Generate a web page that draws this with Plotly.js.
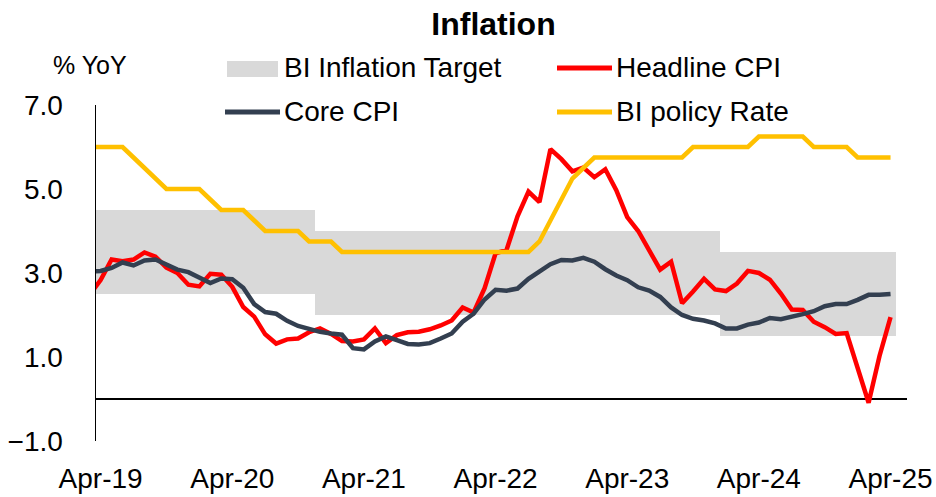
<!DOCTYPE html>
<html>
<head>
<meta charset="utf-8">
<script src="https://cdn.plot.ly/plotly-3.0.1.min.js"></script>
<style>
  html, body { margin: 0; padding: 0; background: #ffffff; }
  #chart { width: 936px; height: 497px; }
</style>
</head>
<body>
<div id="chart"></div>
<script>
// ---- Data (monthly, Mar-19 .. Apr-25) ----
var monthNames = ['Jan','Feb','Mar','Apr','May','Jun','Jul','Aug','Sep','Oct','Nov','Dec'];
var months = [];
(function () {
  var y = 2019, m = 2; // Mar-19
  while (!(y === 2025 && m === 4)) {
    months.push(monthNames[m] + '-' + String(y).slice(2));
    m++; if (m === 12) { m = 0; y++; }
  }
})();

var headlineCPI = [
  2.48, 2.83, 3.32, 3.28, 3.32, 3.49, 3.39, 3.13, 3.00, 2.72,
  2.68, 2.98, 2.96, 2.67, 2.19, 1.96, 1.54, 1.32, 1.42, 1.44, 1.59, 1.68,
  1.55, 1.38, 1.37, 1.42, 1.68, 1.33, 1.52, 1.59, 1.60, 1.66, 1.75, 1.87,
  2.18, 2.06, 2.64, 3.47, 3.55, 4.35, 4.94, 4.69, 5.95, 5.71, 5.42, 5.51,
  5.28, 5.47, 4.97, 4.33, 4.00, 3.52, 3.08, 3.27, 2.28, 2.56, 2.86, 2.61,
  2.57, 2.75, 3.05, 3.00, 2.84, 2.51, 2.13, 2.12, 1.84, 1.71, 1.55, 1.57,
  0.76, -0.09, 1.03, 1.95
];

var coreCPI = [
  3.03, 3.05, 3.12, 3.25, 3.18, 3.30, 3.32, 3.20, 3.08, 3.02,
  2.88, 2.76, 2.87, 2.85, 2.65, 2.26, 2.07, 2.03, 1.86, 1.74, 1.67, 1.60,
  1.56, 1.53, 1.21, 1.18, 1.37, 1.49, 1.40, 1.31, 1.30, 1.33, 1.44, 1.56,
  1.84, 2.03, 2.37, 2.60, 2.58, 2.63, 2.86, 3.04, 3.21, 3.31, 3.30, 3.36,
  3.27, 3.09, 2.94, 2.83, 2.66, 2.58, 2.43, 2.18, 2.00, 1.91, 1.87, 1.80,
  1.68, 1.68, 1.77, 1.82, 1.93, 1.90, 1.95, 2.02, 2.09, 2.21, 2.26, 2.26,
  2.36, 2.48, 2.48, 2.50
];

var policyRate = [
  6.00, 6.00, 6.00, 6.00, 5.75, 5.50, 5.25, 5.00, 5.00, 5.00,
  5.00, 4.75, 4.50, 4.50, 4.50, 4.25, 4.00, 4.00, 4.00, 4.00, 3.75, 3.75,
  3.75, 3.50, 3.50, 3.50, 3.50, 3.50, 3.50, 3.50, 3.50, 3.50, 3.50, 3.50,
  3.50, 3.50, 3.50, 3.50, 3.50, 3.50, 3.50, 3.75, 4.25, 4.75, 5.25, 5.50,
  5.75, 5.75, 5.75, 5.75, 5.75, 5.75, 5.75, 5.75, 5.75, 6.00, 6.00, 6.00,
  6.00, 6.00, 6.00, 6.25, 6.25, 6.25, 6.25, 6.25, 6.00, 6.00, 6.00, 6.00,
  5.75, 5.75, 5.75, 5.75
];

var targetLow = [
  2.5, 2.5, 2.5, 2.5, 2.5, 2.5, 2.5, 2.5, 2.5, 2.5,
  2.5, 2.5, 2.5, 2.5, 2.5, 2.5, 2.5, 2.5, 2.5, 2.5, 2.5, 2.0,
  2.0, 2.0, 2.0, 2.0, 2.0, 2.0, 2.0, 2.0, 2.0, 2.0, 2.0, 2.0,
  2.0, 2.0, 2.0, 2.0, 2.0, 2.0, 2.0, 2.0, 2.0, 2.0, 2.0, 2.0,
  2.0, 2.0, 2.0, 2.0, 2.0, 2.0, 2.0, 2.0, 2.0, 2.0, 2.0, 2.0,
  1.5, 1.5, 1.5, 1.5, 1.5, 1.5, 1.5, 1.5, 1.5, 1.5, 1.5, 1.5,
  1.5, 1.5, 1.5, 1.5
];
var targetHigh = [
  4.5, 4.5, 4.5, 4.5, 4.5, 4.5, 4.5, 4.5, 4.5, 4.5,
  4.5, 4.5, 4.5, 4.5, 4.5, 4.5, 4.5, 4.5, 4.5, 4.5, 4.5, 4.0,
  4.0, 4.0, 4.0, 4.0, 4.0, 4.0, 4.0, 4.0, 4.0, 4.0, 4.0, 4.0,
  4.0, 4.0, 4.0, 4.0, 4.0, 4.0, 4.0, 4.0, 4.0, 4.0, 4.0, 4.0,
  4.0, 4.0, 4.0, 4.0, 4.0, 4.0, 4.0, 4.0, 4.0, 4.0, 4.0, 4.0,
  3.5, 3.5, 3.5, 3.5, 3.5, 3.5, 3.5, 3.5, 3.5, 3.5, 3.5, 3.5,
  3.5, 3.5, 3.5, 3.5
];

var xTickLabels = ['Apr-19', 'Apr-20', 'Apr-21', 'Apr-22', 'Apr-23', 'Apr-24', 'Apr-25'];
var yTicks = [-1, 1, 3, 5, 7];

var seriesNames = ['BI Inflation Target', 'Headline CPI', 'Core CPI', 'BI policy Rate'];
var seriesColors = ['#D9D9D9', '#FF0000', '#333F50', '#FFC000'];

// ---- Layout helpers (pixel -> paper) ----
var W = 936, H = 497;
var M = { l: 96, r: 29, t: 105, b: 56 };
var PW = W - M.l - M.r, PH = H - M.t - M.b;
function px(x) { return (x - M.l) / PW; }
function py(y) { return (H - M.b - y) / PH; }

var FONT = 'Liberation Sans, Arial, sans-serif';

var bandHeight = targetHigh.map(function (v, i) { return v - targetLow[i]; });

var traces = [
  {
    type: 'bar', x: months, y: bandHeight, base: targetLow,
    name: seriesNames[0], marker: { color: seriesColors[0], line: { width: 0 } },
    hoverinfo: 'skip', showlegend: false
  },
  {
    type: 'scatter', mode: 'lines', x: months, y: headlineCPI, name: seriesNames[1],
    line: { color: seriesColors[1], width: 4.5 }, showlegend: false
  },
  {
    type: 'scatter', mode: 'lines', x: months, y: coreCPI, name: seriesNames[2],
    line: { color: seriesColors[2], width: 4.5 }, showlegend: false
  },
  {
    type: 'scatter', mode: 'lines', x: months, y: policyRate, name: seriesNames[3],
    line: { color: seriesColors[3], width: 4.5 }, showlegend: false
  }
];

var legendFont = { family: FONT, size: 28, color: '#000000' };

var shapes = [
  { type: 'rect', xref: 'paper', yref: 'paper', x0: px(227), x1: px(278), y0: py(77), y1: py(61),
    fillcolor: seriesColors[0], line: { width: 0 } },
  { type: 'line', xref: 'paper', yref: 'paper', x0: px(557), x1: px(612), y0: py(68), y1: py(68),
    line: { color: seriesColors[1], width: 5 } },
  { type: 'line', xref: 'paper', yref: 'paper', x0: px(225), x1: px(280), y0: py(112), y1: py(112),
    line: { color: seriesColors[2], width: 5 } },
  { type: 'line', xref: 'paper', yref: 'paper', x0: px(557), x1: px(612), y0: py(112), y1: py(112),
    line: { color: seriesColors[3], width: 5 } }
];

var annotations = [
  { text: seriesNames[0], x: px(282), y: py(68), xref: 'paper', yref: 'paper', xanchor: 'left', yanchor: 'middle', showarrow: false, font: legendFont },
  { text: seriesNames[1], x: px(614), y: py(68), xref: 'paper', yref: 'paper', xanchor: 'left', yanchor: 'middle', showarrow: false, font: legendFont },
  { text: seriesNames[2], x: px(282), y: py(111), xref: 'paper', yref: 'paper', xanchor: 'left', yanchor: 'middle', showarrow: false, font: legendFont },
  { text: seriesNames[3], x: px(614), y: py(111), xref: 'paper', yref: 'paper', xanchor: 'left', yanchor: 'middle', showarrow: false, font: legendFont },
  { text: '% YoY', x: px(90), y: py(65), xref: 'paper', yref: 'paper', xanchor: 'center', yanchor: 'middle', showarrow: false,
    font: { family: FONT, size: 25, color: '#000000' } }
];

var layout = {
  width: W, height: H,
  margin: M,
  paper_bgcolor: '#ffffff', plot_bgcolor: '#ffffff',
  showlegend: false,
  bargap: 0,
  title: {
    text: '<b>Inflation</b>',
    font: { family: FONT, size: 32, color: '#000000' },
    xref: 'container', x: 493.5 / W, xanchor: 'center',
    yref: 'container', y: 1 - 24 / H, yanchor: 'middle'
  },
  xaxis: {
    type: 'category',
    range: [0.58, 74.5],
    tickvals: xTickLabels, ticktext: xTickLabels,
    showgrid: false, zeroline: false, showline: false,
    ticks: '', ticklabelstandoff: 18,
    tickfont: { family: FONT, size: 28, color: '#000000' },
    fixedrange: true
  },
  yaxis: {
    range: [-1, 7],
    tickvals: yTicks, tickformat: '.1f',
    showgrid: false,
    zeroline: true, zerolinecolor: '#000000', zerolinewidth: 2,
    showline: true, linecolor: '#000000', linewidth: 1.5,
    ticks: '', ticklabelstandoff: 26,
    tickfont: { family: FONT, size: 28, color: '#000000' },
    fixedrange: true
  },
  shapes: shapes,
  annotations: annotations
};

Plotly.newPlot('chart', traces, layout, { displayModeBar: false, staticPlot: true });
</script>
</body>
</html>
